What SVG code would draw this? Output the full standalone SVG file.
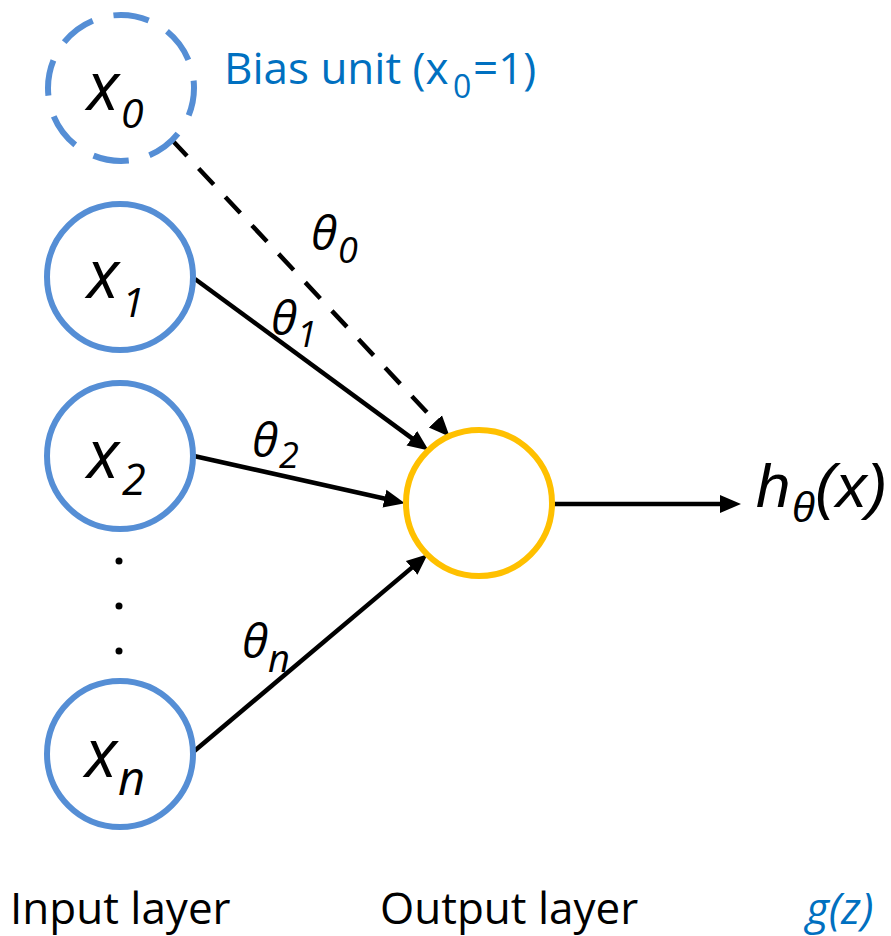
<svg xmlns="http://www.w3.org/2000/svg" width="891" height="936" viewBox="0 0 891 936">
<style>
.in{fill:#fff;stroke:#558ED5;stroke-width:6}
.out{fill:#fff;stroke:#FFC000;stroke-width:6}
.lbl{font-family:"Open Sans","Liberation Sans",sans-serif;font-style:italic;fill:#000}
.th{font-family:"Open Sans","Liberation Sans",sans-serif;font-style:italic;fill:#000}
.cap{font-family:"Open Sans","Liberation Sans",sans-serif;font-size:44px;fill:#000}
.edge{stroke:#000;stroke-width:4.5;fill:none}
</style>
<defs>
<marker id="ah" markerUnits="userSpaceOnUse" markerWidth="24" markerHeight="20" viewBox="0 -10 24 20" refX="10" refY="0" orient="auto">
<path d="M0,-9 L21,0 L0,9 z" fill="#000"/>
</marker>
</defs>
<rect width="891" height="936" fill="#fff"/>
<g id="connectors">
<line class="edge" x1="172" y1="140" x2="442.2" y2="428.7" stroke-dasharray="22 17" marker-end="url(#ah)"/>
<line class="edge" x1="195" y1="279" x2="419.9" y2="444.1" marker-end="url(#ah)"/>
<line class="edge" x1="194" y1="456" x2="394.2" y2="500.8" marker-end="url(#ah)"/>
<line class="edge" x1="192" y1="753" x2="419.3" y2="561.4" marker-end="url(#ah)"/>
<line class="edge" x1="553" y1="504" x2="730" y2="504" marker-end="url(#ah)"/>
<text class="th" x="311" y="250" font-size="48">θ<tspan x="338" y="263" font-size="36">0</tspan></text>
<text class="th" x="271" y="335" font-size="48">θ<tspan x="297" y="347" font-size="36">1</tspan></text>
<text class="th" x="252" y="457" font-size="48">θ<tspan x="279" y="468" font-size="36">2</tspan></text>
<text class="th" x="242" y="658" font-size="48">θ<tspan x="268" y="672" font-size="38">n</tspan></text>
</g>
<g id="x0">
<circle cx="121" cy="88" r="73" fill="#fff" stroke="#558ED5" stroke-width="6" stroke-dasharray="36 21.3" stroke-dashoffset="8"/>
<text class="lbl" x="87" y="110" font-size="67">x<tspan x="121" y="128" font-size="41">0</tspan></text>
</g>
<g id="bias-label">
<text font-family="'Open Sans','Liberation Sans',sans-serif" font-size="44" fill="#0070C0" x="224" y="84">Bias unit (x<tspan x="453" y="98" font-size="32">0</tspan><tspan x="473" y="84">=1)</tspan></text>
</g>
<g id="x1">
<circle class="in" cx="120" cy="277" r="73"/>
<text class="lbl" x="87" y="298" font-size="67">x<tspan x="122" y="317" font-size="41">1</tspan></text>
</g>
<g id="x2">
<circle class="in" cx="120" cy="456" r="73"/>
<text class="lbl" x="87" y="478" font-size="67">x<tspan x="122" y="495" font-size="43">2</tspan></text>
</g>
<g id="dots">
<circle cx="119" cy="561" r="3.5" fill="#000"/>
<circle cx="119" cy="606" r="3.5" fill="#000"/>
<circle cx="119" cy="651" r="3.5" fill="#000"/>
</g>
<g id="xn">
<circle class="in" cx="120" cy="754" r="73"/>
<text class="lbl" x="85" y="777" font-size="67">x<tspan x="118" y="795" font-size="47">n</tspan></text>
</g>
<g id="output">
<circle class="out" cx="479" cy="503" r="73"/>
</g>
<g id="h">
<text font-family="'Liberation Sans',Arial,sans-serif" font-style="italic" font-size="62" fill="#000" x="756" y="507">h<tspan x="792" y="522" font-size="42">θ</tspan><tspan x="815" y="507">(x)</tspan></text>
</g>
<g id="captions">
<text class="cap" x="10" y="924">Input layer</text>
<text class="cap" x="380" y="924">Output layer</text>
<text font-family="'Open Sans','Liberation Sans',sans-serif" font-style="italic" font-size="44" fill="#0070C0" x="806" y="924">g(z)</text>
</g>
</svg>
